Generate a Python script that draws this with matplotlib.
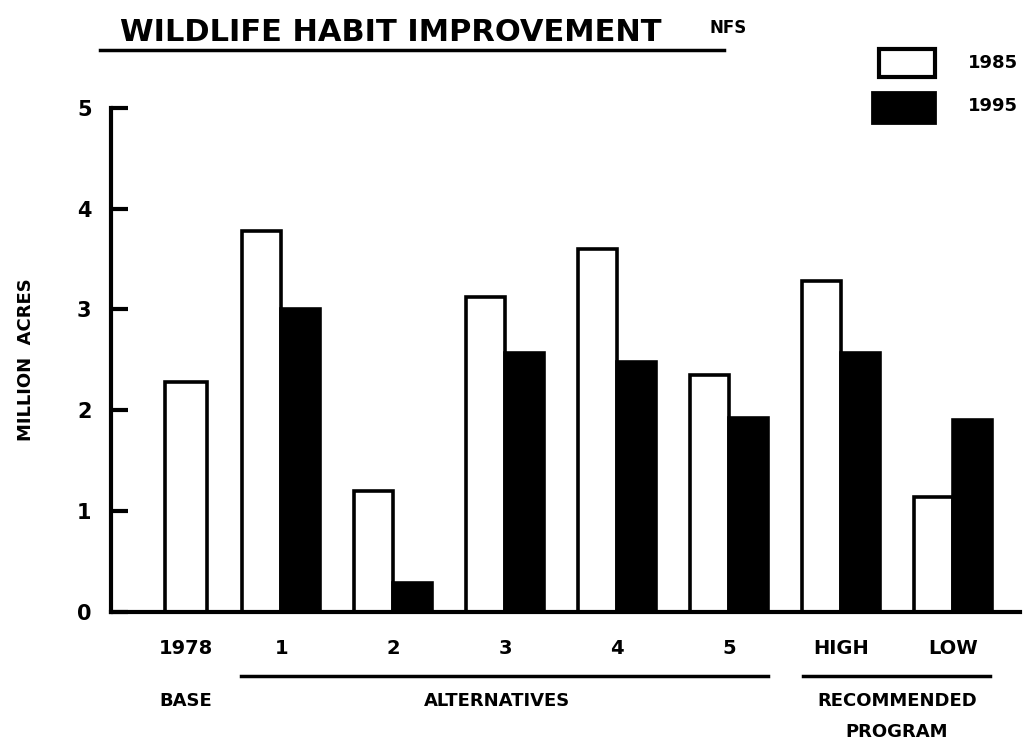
import matplotlib.pyplot as plt
from matplotlib.patches import Rectangle
from matplotlib.lines import Line2D

# podatki (milijon akrov)
kategorije = ["1978", "1", "2", "3", "4", "5", "HIGH", "LOW"]
base_1978 = 2.28
v1985 = [3.78, 1.2, 3.12, 3.6, 2.35, 3.28, 1.14]
v1995 = [3.0, 0.29, 2.57, 2.48, 1.92, 2.57, 1.9]
legenda = ["1985", "1995"]
skupine = ["BASE", "ALTERNATIVES", "RECOMMENDED\nPROGRAM"]

plt.rcParams['font.family'] = ['DejaVu Sans']
plt.rcParams['font.weight'] = 'bold'

fig = plt.figure(figsize=(10.23, 7.48), dpi=100)
ax = fig.add_axes([0.1085, 0.182, 0.8885, 0.674])

w = 0.35
xpos = [1, 2, 3, 4, 5, 6, 7]
ax.bar(0.15, base_1978, width=0.38, color="white", edgecolor="black", linewidth=2.6)
ax.bar([x - w / 2 for x in xpos], v1985, width=w, color="white", edgecolor="black", linewidth=2.6)
ax.bar([x + w / 2 for x in xpos], v1995, width=w, color="black", edgecolor="black", linewidth=2.6)

ax.set_xlim(-0.52, 7.6)
ax.set_ylim(0, 5)
ax.spines["top"].set_visible(False)
ax.spines["right"].set_visible(False)
ax.spines["left"].set_linewidth(3)
ax.spines["bottom"].set_linewidth(3)
ax.set_yticks([0, 1, 2, 3, 4, 5])
ax.tick_params(axis="y", direction="in", length=12, width=3, labelsize=15, pad=14)
ax.set_xticks([])
for t in ax.get_yticklabels():
    t.set_fontweight("bold")

# x oznake
xlab = [0.15] + xpos
for x, k in zip(xlab, kategorije):
    ax.text(x, -0.36, k, ha="center", va="center", fontsize=14, fontweight="bold")

ax.text(0.15, -0.88, skupine[0], ha="center", va="center", fontsize=13, fontweight="bold")
ax.text(2.93, -0.88, skupine[1], ha="center", va="center", fontsize=13, fontweight="bold")
ax.text(6.5, -1.04, skupine[2], ha="center", va="center", fontsize=13, fontweight="bold",
        linespacing=1.9)
ax.add_line(Line2D([0.64, 5.35], [-0.64, -0.64], color="black", lw=2.5, clip_on=False))
ax.add_line(Line2D([5.66, 7.33], [-0.64, -0.64], color="black", lw=2.5, clip_on=False))

ax.set_ylabel("MILLION  ACRES", fontsize=13, fontweight="bold", labelpad=30)

# naslov
fig.text(0.117, 0.957, "WILDLIFE HABIT IMPROVEMENT", fontsize=22, fontweight="bold", va="center")
fig.text(0.694, 0.962, "NFS", fontsize=12, fontweight="bold", va="center")
fig.add_artist(Line2D([0.098, 0.708], [0.933, 0.933], color="black", lw=2.5))

# legenda
fig.add_artist(Rectangle((0.859, 0.897), 0.055, 0.038, facecolor="white", edgecolor="black", lw=3))
fig.add_artist(Rectangle((0.852, 0.836), 0.062, 0.041, facecolor="black", edgecolor="black", lw=2))
fig.text(0.995, 0.916, legenda[0], fontsize=13, fontweight="bold", va="center", ha="right")
fig.text(0.995, 0.858, legenda[1], fontsize=13, fontweight="bold", va="center", ha="right")

fig.savefig("out.png", dpi=100)
